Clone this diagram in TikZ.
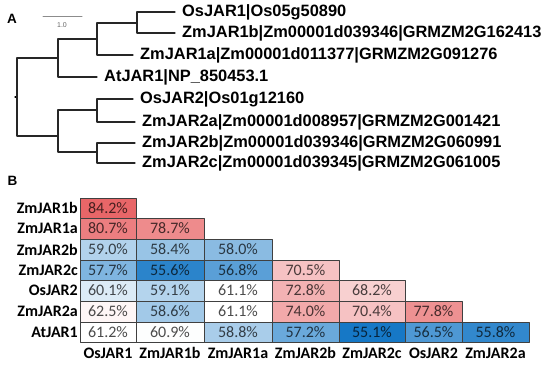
\documentclass[tikz,border=0pt]{standalone}
\usepackage{fontspec}
\setmainfont{Liberation Sans}
\newfontfamily\carlito{Carlito}
\definecolor{hired}{RGB}{232,102,104}
\definecolor{hiblue}{RGB}{22,120,198}
\begin{document}
\begin{tikzpicture}[x=1pt,y=-1pt,line join=round,line cap=round,
	font=\bfseries\fontsize{16.4}{18}\selectfont,
	leaf/.style={anchor=west,inner sep=0pt,xshift=7pt},
	cell/.style={draw=black!75,line width=.7pt,inner sep=0pt,outer sep=0pt,font=\carlito\mdseries\fontsize{16}{18}\selectfont},
	lab/.style={inner sep=1pt,font=\carlito\bfseries\fontsize{16}{18}\selectfont}]
	\useasboundingbox (0,0) rectangle (550,366);
	\node[font=\bfseries\fontsize{13.5}{15}\selectfont] (A) at (12,19) {A};
	\node[font=\bfseries\fontsize{13.5}{15}\selectfont] (B) at (12.5,181) {B};
	% scale bar
	\path (43,17) coordinate (s1) (82,17) coordinate (s2);
	\draw[black!45,line width=1pt] (s1)--(s2);
	\node[black!60,font=\mdseries\fontsize{7}{8}\selectfont] (s) at (62,25) {1.0};
	% tree
	\path (17,97) coordinate (R) ++(-2,0) coordinate (R0)
		(58,58) coordinate (N1) (97,39) coordinate (N2) (137,23) coordinate (N3)
		(58,136) coordinate (N4) (97,110) coordinate (N5) (97,152) coordinate (N6);
	\foreach \n/\x/\y/\t in {T1/175/12/OsJAR1|Os05g50890,
		T2/175/33/ZmJAR1b|Zm00001d039346|GRMZM2G162413,
		T3/133/55/ZmJAR1a|Zm00001d011377|GRMZM2G091276,
		T4/97/77/AtJAR1|NP\_850453.1,
		T5/133/99/OsJAR2|Os01g12160,
		T6/135/122/ZmJAR2a|Zm00001d008957|GRMZM2G001421,
		T7/135/143/ZmJAR2b|Zm00001d039346|GRMZM2G060991,
		T8/135/163/ZmJAR2c|Zm00001d039345|GRMZM2G061005}
		{\path (\x,\y) coordinate (\n) node[leaf] (\n-l) {\t};}
	\draw[line width=1.1pt] (R)--(R0);
	\foreach \a/\b in {R/N1,R/N4,N1/N2,N1/T4,N2/N3,N2/T3,N3/T1,N3/T2,
		N4/N5,N4/N6,N5/T5,N5/T6,N6/T7,N6/T8}
		{\draw[line width=1.1pt,black!85] (\a)|-(\b);}
	% identity matrix
	\foreach \r/\ya/\yb/\lab/\vals in {1/198/218/ZmJAR1b/{84.2},
		2/218/239/ZmJAR1a/{80.7,78.7},
		3/239/260/ZmJAR2b/{59.0,58.4,58.0},
		4/260/280/ZmJAR2c/{57.7,55.6,56.8,70.5},
		5/280/301/OsJAR2/{60.1,59.1,61.1,72.8,68.2},
		6/301/322/ZmJAR2a/{62.5,58.6,61.1,74.0,70.4,77.8},
		7/322/342/AtJAR1/{61.2,60.9,58.8,57.2,55.1,56.5,55.8}}
	{\node[lab,anchor=east] (L\r) at (79,{(\ya+\yb)/2}) {\lab};
		\foreach \v [count=\c] in \vals {
			\pgfmathsetmacro\xa{{80,136,204,272,339,405,462,529}[\c-1]}
			\pgfmathsetmacro\xb{{80,136,204,272,339,405,462,529}[\c]}
			\pgfmathtruncatemacro\pr{max(0,min(100,(\v-61)/23.2*100))}
			\pgfmathtruncatemacro\pb{max(0,min(100,(61-\v)/5.9*100))}
			\ifdim\v pt<61pt \colorlet{cc}{hiblue!\pb!white}\else\colorlet{cc}{hired!\pr!white}\fi
			\node[cell,fill=cc,text=black!70!cc,minimum width=\xb-\xa,minimum height=\yb-\ya]
				(C\r-\c) at ({(\xa+\xb)/2},{(\ya+\yb)/2}) {\v\%};}}
	\foreach \t [count=\c] in {OsJAR1,ZmJAR1b,ZmJAR1a,ZmJAR2b,ZmJAR2c,OsJAR2,ZmJAR2a}
	{\pgfmathsetmacro\xa{{80,136,204,272,339,405,462,529}[\c-1]}
		\pgfmathsetmacro\xb{{80,136,204,272,339,405,462,529}[\c]}
		\node[lab] (K\c) at ({(\xa+\xb)/2},353) {\t};}
\end{tikzpicture}
\end{document}
